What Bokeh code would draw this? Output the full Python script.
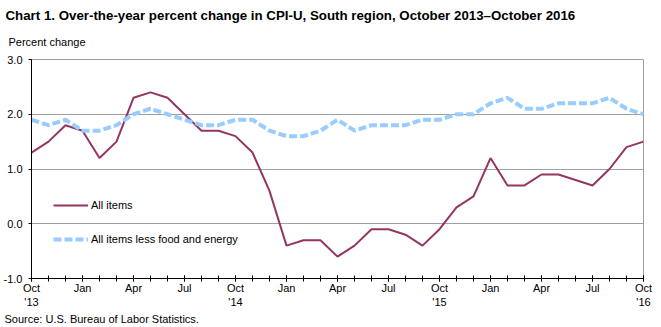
from bokeh.plotting import figure
from bokeh.models import (Range1d, FixedTicker, Title, Legend, LegendItem,
                          NumeralTickFormatter)
from bokeh.embed import file_html
from bokeh.resources import INLINE

months = list(range(37))  # Oct 2013 .. Oct 2016
all_items = [1.3, 1.5, 1.8, 1.7, 1.2, 1.5, 2.3, 2.4, 2.3, 2.0, 1.7, 1.7,
             1.6, 1.3, 0.6, -0.4, -0.3, -0.3, -0.6, -0.4, -0.1, -0.1, -0.2, -0.4,
             -0.1, 0.3, 0.5, 1.2, 0.7, 0.7, 0.9, 0.9, 0.8, 0.7, 1.0, 1.4, 1.5]
core = [1.9, 1.8, 1.9, 1.7, 1.7, 1.8, 2.0, 2.1, 2.0, 1.9, 1.8, 1.8,
        1.9, 1.9, 1.7, 1.6, 1.6, 1.7, 1.9, 1.7, 1.8, 1.8, 1.8, 1.9,
        1.9, 2.0, 2.0, 2.2, 2.3, 2.1, 2.1, 2.2, 2.2, 2.2, 2.3, 2.1, 2.0]
tick_pos = [0, 3, 6, 9, 12, 15, 18, 21, 24, 27, 30, 33, 36]
tick_labels = ["Oct\n'13", "Jan", "Apr", "Jul", "Oct\n'14", "Jan", "Apr", "Jul",
               "Oct\n'15", "Jan", "Apr", "Jul", "Oct\n'16"]
y_ticks = [-1.0, 0.0, 1.0, 2.0, 3.0]

FONT = "Liberation Sans"

p = figure(width=661, height=327, output_backend="svg", toolbar_location=None,
           x_range=Range1d(0, 36), y_range=Range1d(-1, 3),
           min_border_left=31, min_border_right=18, min_border_top=59,
           min_border_bottom=49)
p.background_fill_color = "white"
p.border_fill_color = "white"
p.outline_line_color = "#a0a0a0"
p.outline_line_width = 1

p.title.text = "Chart 1. Over-the-year percent change in CPI-U, South region, October 2013\u2013October  2016"
p.title.text_font = FONT
p.title.text_font_size = "13.3px"
p.title.text_font_style = "bold"
p.title.text_color = "black"
p.title.align = "left"
p.title.offset = -26
p.title.standoff = 0

p.add_layout(Title(text="Percent change", text_font=FONT, text_font_size="11px",
                   text_font_style="normal", text_color="black", align="left",
                   offset=-23, standoff=23), "above")

p.xgrid.grid_line_color = None
p.ygrid.ticker = FixedTicker(ticks=y_ticks)
p.ygrid.grid_line_color = "#a0a0a0"
p.ygrid.grid_line_width = 1

xa = p.xaxis[0]
xa.ticker = FixedTicker(ticks=tick_pos, minor_ticks=months)
xa.major_label_overrides = {t: l for t, l in zip(tick_pos, tick_labels)}
xa.major_tick_in = 3
xa.major_tick_out = 3
xa.minor_tick_in = 3
xa.minor_tick_out = 3
xa.axis_line_color = "black"
xa.major_tick_line_color = "black"
xa.minor_tick_line_color = "black"
xa.major_label_text_font = FONT
xa.major_label_text_font_size = "11px"
xa.major_label_text_color = "black"
xa.major_label_standoff = 0

ya = p.yaxis[0]
ya.ticker = FixedTicker(ticks=y_ticks, minor_ticks=[])
ya.formatter = NumeralTickFormatter(format="0.0")
ya.major_tick_in = 0
ya.major_tick_out = 3
ya.minor_tick_line_color = None
ya.axis_line_color = "black"
ya.major_tick_line_color = "black"
ya.major_label_text_font = FONT
ya.major_label_text_font_size = "11px"
ya.major_label_text_color = "black"
ya.major_label_standoff = 6

r1 = p.line(months, all_items, line_color="#953562", line_width=2)
r2 = p.line(months, core, line_color="#99ccff", line_width=4, line_dash="8 3")

legend = Legend(items=[LegendItem(label="All items", renderers=[r1]),
                       LegendItem(label="All items less food and energy", renderers=[r2])],
                location=(22, 29), padding=0, margin=0, spacing=14,
                glyph_width=35, glyph_height=20, label_height=20,
                label_standoff=3, background_fill_alpha=0,
                border_line_color=None,
                label_text_font=FONT, label_text_font_size="11px",
                label_text_color="black")
p.add_layout(legend, "center")

p.add_layout(Title(text="Source: U.S. Bureau of Labor Statistics.", text_font=FONT,
                   text_font_size="11px", text_font_style="normal",
                   text_color="black", align="left", offset=-27, standoff=0),
             "below")

open("out.html", "w").write(file_html(p, INLINE))
